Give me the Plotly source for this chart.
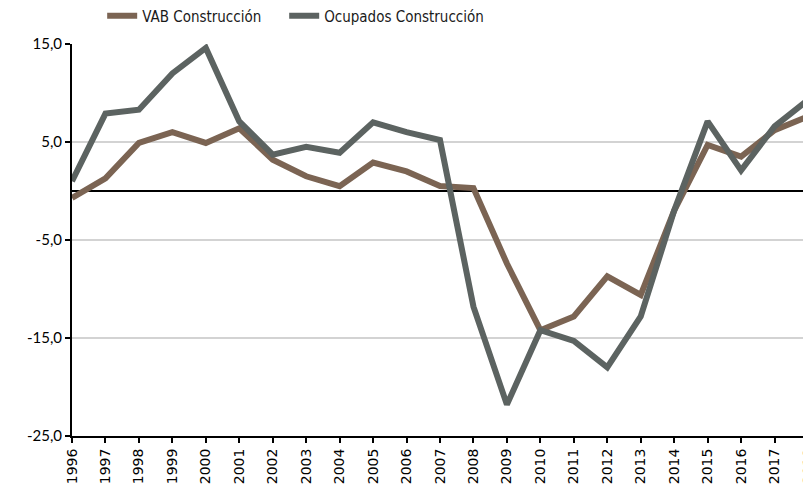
import plotly.graph_objects as go

years = list(range(1996, 2019))
vab_construccion = [-0.7, 1.3, 4.9, 6.0, 4.9, 6.4, 3.2, 1.5, 0.5, 2.9, 2.0, 0.5, 0.3,
                    -7.4, -14.2, -12.8, -8.7, -10.6, -2.0, 4.7, 3.5, 6.2, 7.6]
ocupados_construccion = [1.0, 7.9, 8.3, 12.0, 14.6, 7.1, 3.7, 4.5, 3.9, 7.0, 6.0, 5.2, -11.8,
                         -21.8, -14.2, -15.3, -18.0, -12.8, -2.0, 7.1, 2.1, 6.6, 9.3]
y_ticks = [-25, -15, -5, 5, 15]
y_ticktext = ["-25,0", "-15,0", "-5,0", "5,0", "15,0"]

fig = go.Figure()
fig.add_trace(go.Scatter(x=years, y=vab_construccion, mode="lines", name="VAB Construcción",
                         line=dict(color="#7b6453", width=6), legend="legend"))
fig.add_trace(go.Scatter(x=years, y=ocupados_construccion, mode="lines", name="Ocupados Construcción",
                         line=dict(color="#5c6361", width=6), legend="legend2"))

legend_font = dict(size=15, family="Liberation Sans Narrow, DejaVu Sans Condensed, Roboto, sans-serif",
                   color="#1a1a1a")

fig.update_layout(
    width=811, height=490,
    margin=dict(l=64, r=11, t=36, b=62, autoexpand=False),
    paper_bgcolor="white", plot_bgcolor="white",
    font=dict(family="Roboto, sans-serif", color="#111111"),
    legend=dict(orientation="h", xref="paper", yref="paper", x=0.041, y=1.0714,
                xanchor="left", yanchor="middle", font=legend_font,
                itemwidth=30, bgcolor="rgba(0,0,0,0)"),
    legend2=dict(orientation="h", xref="paper", yref="paper", x=0.2883, y=1.0714,
                 xanchor="left", yanchor="middle", font=legend_font,
                 itemwidth=30, bgcolor="rgba(0,0,0,0)"),
    showlegend=True,
)
fig.update_xaxes(range=[1996, 2018], tickmode="array", tickvals=years,
                 ticktext=[str(y) for y in years], tickangle=-90,
                 showline=True, linecolor="black", linewidth=2,
                 ticks="outside", ticklen=5, tickwidth=1.5, tickcolor="black",
                 showgrid=False, zeroline=False, automargin=False,
                 tickfont=dict(family="DejaVu Sans", size=14, color="black"))
fig.update_yaxes(range=[-25, 15], tickmode="array", tickvals=y_ticks, ticktext=y_ticktext,
                 showline=True, linecolor="black", linewidth=2,
                 ticks="outside", ticklen=5, tickwidth=1.5, tickcolor="black",
                 showgrid=True, gridcolor="#d3d3d3", gridwidth=1.5,
                 zeroline=True, zerolinecolor="black", zerolinewidth=1.5, automargin=False,
                 tickfont=dict(family="Lato", size=15, color="black"))

fig.write_html("out.html")
